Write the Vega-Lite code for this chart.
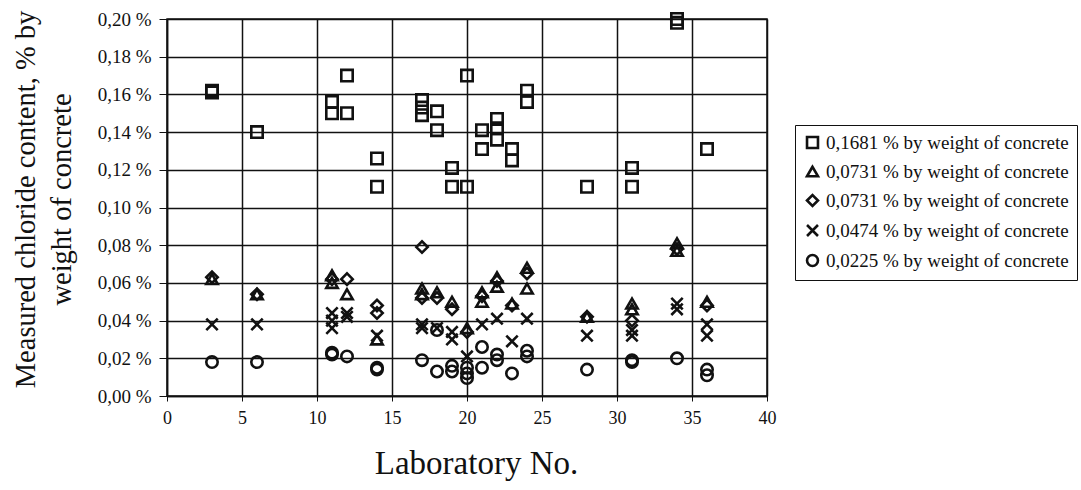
{
  "$schema": "https://vega.github.io/schema/vega-lite/v6.json",
  "width": 600,
  "height": 377,
  "autosize": {"type": "none"},
  "padding": {"left": 167, "top": 19, "right": 314, "bottom": 94},
  "background": "white",
  "config": {
    "view": {"stroke": "#111", "strokeWidth": 1.5},
    "font": "Liberation Serif",
    "legend": {"labelFont": "Liberation Serif"}
  },
  "data": {
    "values": [
      {"lab": 3, "value": 0.162, "series": "S"},
      {"lab": 3, "value": 0.161, "series": "S"},
      {"lab": 6, "value": 0.140, "series": "S"},
      {"lab": 11, "value": 0.156, "series": "S"},
      {"lab": 11, "value": 0.150, "series": "S"},
      {"lab": 12, "value": 0.170, "series": "S"},
      {"lab": 12, "value": 0.150, "series": "S"},
      {"lab": 14, "value": 0.126, "series": "S"},
      {"lab": 14, "value": 0.111, "series": "S"},
      {"lab": 17, "value": 0.157, "series": "S"},
      {"lab": 17, "value": 0.153, "series": "S"},
      {"lab": 17, "value": 0.149, "series": "S"},
      {"lab": 18, "value": 0.151, "series": "S"},
      {"lab": 18, "value": 0.141, "series": "S"},
      {"lab": 19, "value": 0.121, "series": "S"},
      {"lab": 19, "value": 0.111, "series": "S"},
      {"lab": 20, "value": 0.170, "series": "S"},
      {"lab": 20, "value": 0.111, "series": "S"},
      {"lab": 21, "value": 0.141, "series": "S"},
      {"lab": 21, "value": 0.131, "series": "S"},
      {"lab": 22, "value": 0.147, "series": "S"},
      {"lab": 22, "value": 0.142, "series": "S"},
      {"lab": 22, "value": 0.136, "series": "S"},
      {"lab": 23, "value": 0.131, "series": "S"},
      {"lab": 23, "value": 0.125, "series": "S"},
      {"lab": 24, "value": 0.162, "series": "S"},
      {"lab": 24, "value": 0.156, "series": "S"},
      {"lab": 28, "value": 0.111, "series": "S"},
      {"lab": 31, "value": 0.121, "series": "S"},
      {"lab": 31, "value": 0.111, "series": "S"},
      {"lab": 34, "value": 0.200, "series": "S"},
      {"lab": 34, "value": 0.198, "series": "S"},
      {"lab": 36, "value": 0.131, "series": "S"},

      {"lab": 3, "value": 0.062, "series": "T"},
      {"lab": 6, "value": 0.054, "series": "T"},
      {"lab": 11, "value": 0.064, "series": "T"},
      {"lab": 11, "value": 0.060, "series": "T"},
      {"lab": 12, "value": 0.054, "series": "T"},
      {"lab": 14, "value": 0.030, "series": "T"},
      {"lab": 17, "value": 0.057, "series": "T"},
      {"lab": 17, "value": 0.054, "series": "T"},
      {"lab": 18, "value": 0.055, "series": "T"},
      {"lab": 19, "value": 0.050, "series": "T"},
      {"lab": 20, "value": 0.036, "series": "T"},
      {"lab": 21, "value": 0.055, "series": "T"},
      {"lab": 21, "value": 0.050, "series": "T"},
      {"lab": 22, "value": 0.063, "series": "T"},
      {"lab": 22, "value": 0.058, "series": "T"},
      {"lab": 23, "value": 0.049, "series": "T"},
      {"lab": 24, "value": 0.068, "series": "T"},
      {"lab": 24, "value": 0.057, "series": "T"},
      {"lab": 28, "value": 0.042, "series": "T"},
      {"lab": 31, "value": 0.049, "series": "T"},
      {"lab": 31, "value": 0.046, "series": "T"},
      {"lab": 34, "value": 0.081, "series": "T"},
      {"lab": 34, "value": 0.077, "series": "T"},
      {"lab": 36, "value": 0.050, "series": "T"},

      {"lab": 3, "value": 0.063, "series": "D"},
      {"lab": 6, "value": 0.054, "series": "D"},
      {"lab": 11, "value": 0.062, "series": "D"},
      {"lab": 12, "value": 0.062, "series": "D"},
      {"lab": 14, "value": 0.048, "series": "D"},
      {"lab": 14, "value": 0.044, "series": "D"},
      {"lab": 17, "value": 0.079, "series": "D"},
      {"lab": 17, "value": 0.052, "series": "D"},
      {"lab": 18, "value": 0.052, "series": "D"},
      {"lab": 19, "value": 0.046, "series": "D"},
      {"lab": 20, "value": 0.034, "series": "D"},
      {"lab": 21, "value": 0.053, "series": "D"},
      {"lab": 22, "value": 0.061, "series": "D"},
      {"lab": 23, "value": 0.048, "series": "D"},
      {"lab": 24, "value": 0.065, "series": "D"},
      {"lab": 28, "value": 0.042, "series": "D"},
      {"lab": 31, "value": 0.040, "series": "D"},
      {"lab": 34, "value": 0.078, "series": "D"},
      {"lab": 36, "value": 0.048, "series": "D"},

      {"lab": 3, "value": 0.038, "series": "X"},
      {"lab": 6, "value": 0.038, "series": "X"},
      {"lab": 11, "value": 0.044, "series": "X"},
      {"lab": 11, "value": 0.040, "series": "X"},
      {"lab": 11, "value": 0.036, "series": "X"},
      {"lab": 12, "value": 0.044, "series": "X"},
      {"lab": 12, "value": 0.042, "series": "X"},
      {"lab": 14, "value": 0.032, "series": "X"},
      {"lab": 17, "value": 0.038, "series": "X"},
      {"lab": 17, "value": 0.036, "series": "X"},
      {"lab": 18, "value": 0.036, "series": "X"},
      {"lab": 19, "value": 0.034, "series": "X"},
      {"lab": 19, "value": 0.030, "series": "X"},
      {"lab": 20, "value": 0.021, "series": "X"},
      {"lab": 21, "value": 0.038, "series": "X"},
      {"lab": 22, "value": 0.041, "series": "X"},
      {"lab": 23, "value": 0.029, "series": "X"},
      {"lab": 24, "value": 0.041, "series": "X"},
      {"lab": 28, "value": 0.032, "series": "X"},
      {"lab": 31, "value": 0.035, "series": "X"},
      {"lab": 31, "value": 0.032, "series": "X"},
      {"lab": 34, "value": 0.049, "series": "X"},
      {"lab": 34, "value": 0.046, "series": "X"},
      {"lab": 36, "value": 0.038, "series": "X"},
      {"lab": 36, "value": 0.032, "series": "X"},

      {"lab": 3, "value": 0.018, "series": "C"},
      {"lab": 6, "value": 0.018, "series": "C"},
      {"lab": 11, "value": 0.023, "series": "C"},
      {"lab": 11, "value": 0.022, "series": "C"},
      {"lab": 12, "value": 0.021, "series": "C"},
      {"lab": 14, "value": 0.015, "series": "C"},
      {"lab": 14, "value": 0.014, "series": "C"},
      {"lab": 17, "value": 0.019, "series": "C"},
      {"lab": 18, "value": 0.035, "series": "C"},
      {"lab": 18, "value": 0.013, "series": "C"},
      {"lab": 19, "value": 0.016, "series": "C"},
      {"lab": 19, "value": 0.013, "series": "C"},
      {"lab": 20, "value": 0.015, "series": "C"},
      {"lab": 20, "value": 0.012, "series": "C"},
      {"lab": 20, "value": 0.0095, "series": "C"},
      {"lab": 21, "value": 0.026, "series": "C"},
      {"lab": 21, "value": 0.015, "series": "C"},
      {"lab": 22, "value": 0.022, "series": "C"},
      {"lab": 22, "value": 0.019, "series": "C"},
      {"lab": 23, "value": 0.012, "series": "C"},
      {"lab": 24, "value": 0.024, "series": "C"},
      {"lab": 24, "value": 0.021, "series": "C"},
      {"lab": 28, "value": 0.014, "series": "C"},
      {"lab": 31, "value": 0.019, "series": "C"},
      {"lab": 31, "value": 0.018, "series": "C"},
      {"lab": 34, "value": 0.020, "series": "C"},
      {"lab": 36, "value": 0.014, "series": "C"},
      {"lab": 36, "value": 0.011, "series": "C"}
    ]
  },
  "mark": {"type": "point", "filled": false, "strokeWidth": 2.6, "size": 130, "opacity": 1, "clip": false},
  "encoding": {
    "x": {
      "field": "lab",
      "type": "quantitative",
      "scale": {"domain": [0, 40], "nice": false},
      "axis": {
        "values": [0, 5, 10, 15, 20, 25, 30, 35, 40],
        "title": "Laboratory No.",
        "titleFont": "Liberation Serif",
        "titleFontSize": 33,
        "titleFontWeight": "normal",
        "titleColor": "#111",
        "titlePadding": 20,
        "titleX": 309,
        "titleAlign": "center",
        "labelFont": "Liberation Serif",
        "labelFontSize": 18,
        "labelColor": "#111",
        "labelPadding": 8,
        "labelFlush": false,
        "tickSize": 5,
        "tickColor": "#111",
        "domainColor": "#111",
        "domainWidth": 1.5,
        "gridColor": "#111",
        "gridWidth": 1.5,
        "gridOpacity": 1
      }
    },
    "y": {
      "field": "value",
      "type": "quantitative",
      "scale": {"domain": [0, 0.2], "nice": false},
      "axis": {
        "values": [0, 0.02, 0.04, 0.06, 0.08, 0.1, 0.12, 0.14, 0.16, 0.18, 0.2],
        "labelExpr": "replace(format(datum.value, '.2f'), '.', ',') + ' %'",
        "title": ["Measured chloride content, % by", "weight of concrete"],
        "titleFont": "Liberation Serif",
        "titleFontSize": 28.5,
        "titleFontWeight": "normal",
        "titleColor": "#111",
        "titleLineHeight": 36,
        "titleAngle": -90,
        "titleAlign": "center",
        "titleBaseline": "top",
        "titleX": -156,
        "titleY": 180,
        "labelFont": "Liberation Serif",
        "labelFontSize": 19,
        "labelColor": "#111",
        "labelPadding": 8,
        "labelFlush": false,
        "tickSize": 8,
        "tickColor": "#111",
        "domainColor": "#111",
        "domainWidth": 1.5,
        "gridColor": "#111",
        "gridWidth": 1.5,
        "gridOpacity": 1
      }
    },
    "shape": {
      "field": "series",
      "type": "nominal",
      "scale": {
        "domain": ["S", "T", "D", "X", "C"],
        "range": ["square", "triangle-up", "diamond", "M-1,-1L1,1M-1,1L1,-1", "circle"]
      },
      "legend": {
        "title": null,
        "orient": "none",
        "legendX": 628,
        "legendY": 106,
        "labelExpr": "datum.value == 'S' ? '0,1681 % by weight of concrete' : datum.value == 'T' ? '0,0731 % by weight of concrete' : datum.value == 'D' ? '0,0731 % by weight of concrete' : datum.value == 'X' ? '0,0474 % by weight of concrete' : '0,0225 % by weight of concrete'",
        "labelFont": "Liberation Serif",
        "labelFontSize": 19,
        "labelColor": "#111",
        "labelOffset": 4,
        "labelLimit": 400,
        "symbolSize": 120,
        "symbolStrokeWidth": 2.6,
        "symbolStrokeColor": "#111",
        "symbolFillColor": "transparent",
        "symbolOpacity": 1,
        "rowPadding": 7,
        "padding": 8,
        "strokeColor": "#111",
        "fillColor": "white"
      }
    },
    "color": {"value": "#111"}
  }
}
